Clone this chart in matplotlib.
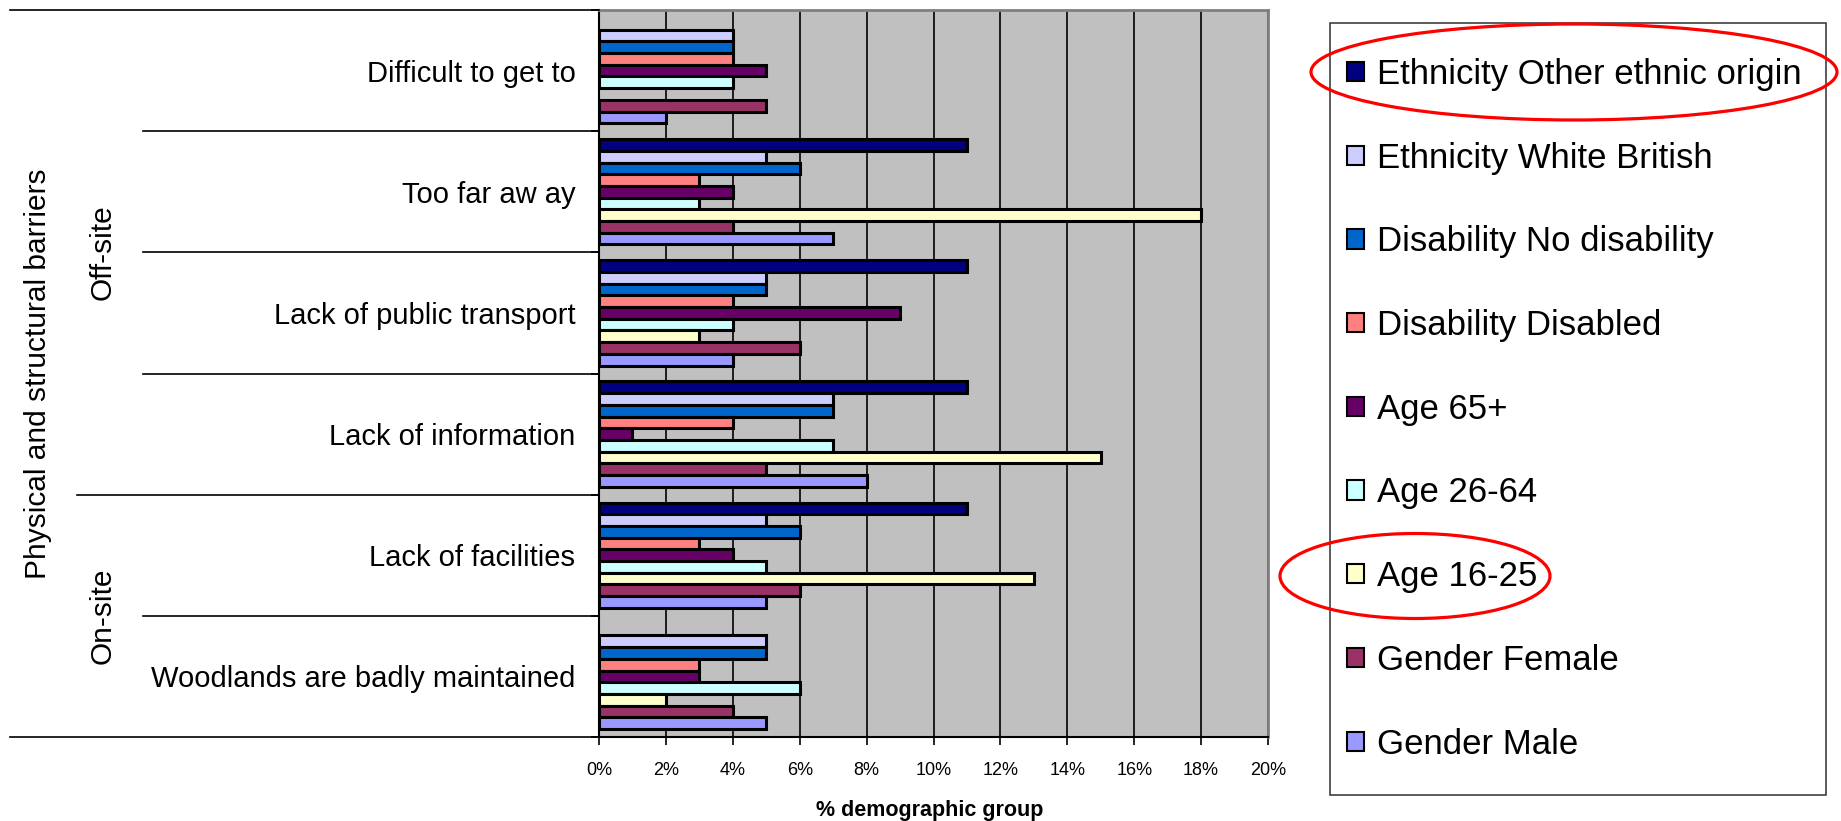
import numpy as np
import matplotlib
matplotlib.use("Agg")
import matplotlib.pyplot as plt
from matplotlib.patches import Patch, Ellipse, Rectangle
from matplotlib.lines import Line2D
from matplotlib.transforms import blended_transform_factory

plt.rcParams['font.family'] = ['Liberation Sans', 'DejaVu Sans']

# categories top to bottom
categories = ["Difficult to get to", "Too far aw ay", "Lack of public transport",
              "Lack of information", "Lack of facilities", "Woodlands are badly maintained"]
groups = ["Off-site", "On-site"]
group_sizes = [4, 2]
outer_label = "Physical and structural barriers"

series_names = ["Ethnicity Other ethnic origin", "Ethnicity White British",
                "Disability No disability", "Disability Disabled", "Age 65+",
                "Age 26-64", "Age 16-25", "Gender Female", "Gender Male"]
colors = ["#000080", "#CCCCFF", "#0066CC", "#FF8080", "#660066",
          "#CCFFFF", "#FFFFCC", "#993366", "#9999FF"]

# % values per series (nan = no bar)
other_ethnic  = [np.nan, 11, 11, 11, 11, np.nan]
white_british = [4, 5, 5, 7, 5, 5]
no_disability = [4, 6, 5, 7, 6, 5]
disabled      = [4, 3, 4, 4, 3, 3]
age_65        = [5, 4, 9, 1, 4, 3]
age_26_64     = [4, 3, 4, 7, 5, 6]
age_16_25     = [np.nan, 18, 3, 15, 13, 2]
female        = [5, 4, 6, 5, 6, 4]
male          = [2, 7, 4, 8, 5, 5]
values = [other_ethnic, white_british, no_disability, disabled, age_65,
          age_26_64, age_16_25, female, male]

xticks = np.arange(0, 21, 2)

W, H = 1841, 821
fig = plt.figure(figsize=(W / 100, H / 100), dpi=100)
ax_l, ax_r, ax_t, ax_b = 599, 1268, 10, 737
ax = fig.add_axes([ax_l / W, (H - ax_b) / H, (ax_r - ax_l) / W, (ax_b - ax_t) / H])
ax.set_facecolor('#C0C0C0')

n = len(series_names)
h = 0.0965
y = np.arange(len(categories))
for i, (name, vals, col) in enumerate(zip(series_names, values, colors)):
    ax.barh(y + (i - (n - 1) / 2) * h, vals, height=h, color=col,
            edgecolor='black', linewidth=2.2, zorder=3, label=name)

ax.set_ylim(len(categories) - 0.5, -0.5)
ax.set_xlim(0, 20)
ax.set_xticks(xticks)
ax.set_xticklabels([f"{t}%" for t in xticks], fontsize=13)
ax.tick_params(axis='x', length=6, width=1.2, pad=12)
ax.set_axisbelow(True)
ax.grid(axis='x', color='black', lw=1.2)

ax.set_yticks(y)
ax.set_yticklabels(categories, fontsize=21)
ax.tick_params(axis='y', which='major', length=0, pad=17)
ax.set_yticks(np.arange(-0.5, len(categories), 1), minor=True)
ax.tick_params(axis='y', which='minor', length=6, width=1.2, direction='out')

for s in ['left', 'bottom']:
    ax.spines[s].set_color('black')
    ax.spines[s].set_linewidth(1.5)
for s in ['top', 'right']:
    ax.spines[s].set_color('#808080')
    ax.spines[s].set_linewidth(2)

fig.text(930 / W, 1 - 810 / H, "% demographic group", fontsize=15.5,
         fontweight='bold', ha='center', va='center')

# hierarchical category axis on the left
trans = blended_transform_factory(fig.transFigure, ax.transData)
group_edges = np.cumsum([0] + group_sizes) - 0.5
for yb in np.arange(-0.5, len(categories), 1):
    if yb in (group_edges[0], group_edges[-1]):
        x0 = 10
    elif yb in group_edges:
        x0 = 77
    else:
        x0 = 143
    fig.add_artist(Line2D([x0 / W, ax_l / W], [yb, yb], transform=trans,
                          color='black', lw=1.2))
for g, a, b in zip(groups, group_edges[:-1], group_edges[1:]):
    fig.text(103 / W, (a + b) / 2, g, transform=trans, rotation=90,
             ha='center', va='center', fontsize=21.5)
fig.text(38 / W, (group_edges[0] + group_edges[-1]) / 2, outer_label,
         transform=trans, rotation=90, ha='center', va='center', fontsize=21.5)

# legend box + frameless legend inside it
fig.add_artist(Rectangle((1330 / W, 1 - 795 / H), 496 / W, 772 / H,
                         transform=fig.transFigure, facecolor='white',
                         edgecolor='#404040', lw=1.2, zorder=1))
handles = [Patch(facecolor=c, edgecolor='black', lw=1.5, label=nm)
           for nm, c in zip(series_names, colors)]
leg = fig.legend(handles=handles, loc='upper left',
                 bbox_to_anchor=(1347 / W, 1 - 58 / H), fontsize=25,
                 frameon=False, labelspacing=1.46, handlelength=0.5,
                 handleheight=0.48, handletextpad=0.37, borderpad=0,
                 borderaxespad=0)
leg.set_zorder(2)

# red highlight ellipses
for cx, cy, ew, eh in [(1574, 72, 526, 96), (1415, 576, 270, 85)]:
    fig.add_artist(Ellipse((cx / W, 1 - cy / H), ew / W, eh / H,
                           transform=fig.transFigure, fill=False,
                           edgecolor='red', lw=2.3, zorder=5))

fig.savefig("out.png", dpi=100)
